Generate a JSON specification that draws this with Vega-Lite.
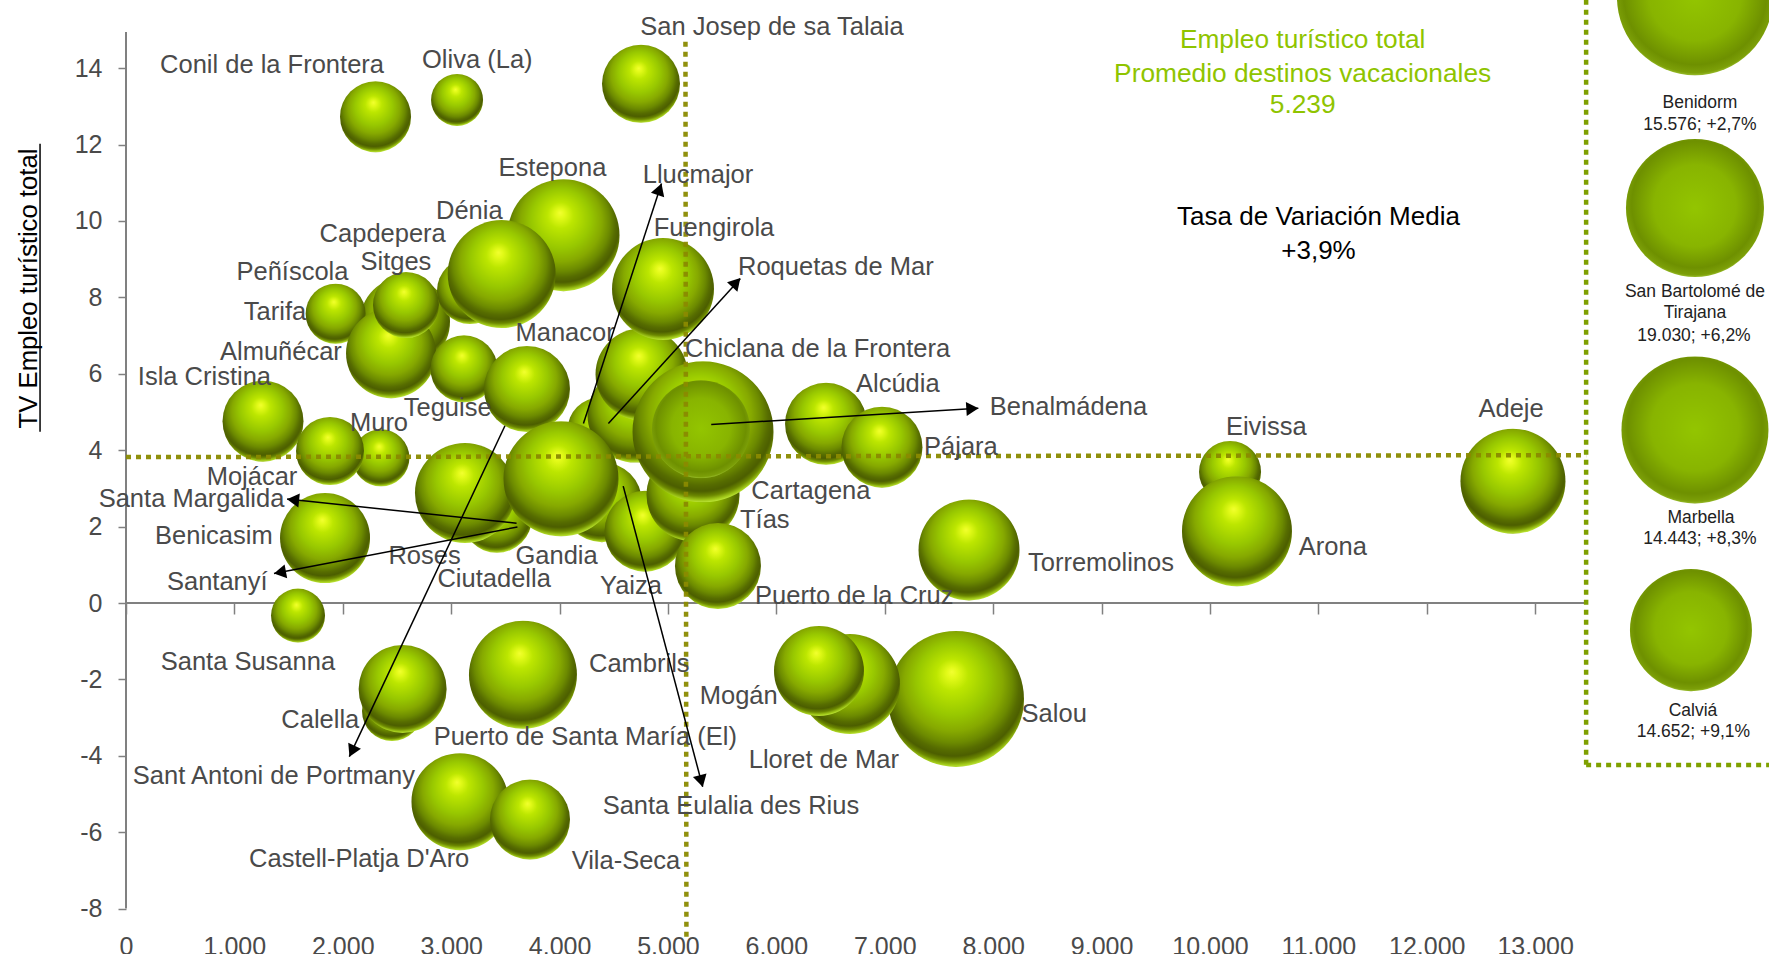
{"$schema":"https://vega.github.io/schema/vega-lite/v6.json","width":1643,"height":954,"autosize":{"type":"none"},"padding":{"left":126,"top":0,"right":0,"bottom":0},"background":"white","config":{"view":{"stroke":null}},
"datasets":{
"burbujas":[
{"m":"Capdepera","x":2574,"y":7.36,"t":90},{"m":"Peñíscola","x":1934,"y":7.57,"t":60},{"m":"Almuñécar","x":2445,"y":6.54,"t":90},{"m":"Sitges","x":2583,"y":7.80,"t":66},
{"m":"Conil de la Frontera","x":2302,"y":12.73,"t":71},{"m":"Oliva (La)","x":3054,"y":13.17,"t":52},{"m":"San Josep de sa Talaia","x":4751,"y":13.59,"t":78},
{"m":"Estepona","x":4036,"y":9.63,"t":112},{"m":"Tarifa","x":3173,"y":8.17,"t":66},{"m":"Dénia","x":3466,"y":8.61,"t":108},
{"m":"Teguise","x":3118,"y":6.13,"t":67},{"m":"Manacor","x":3699,"y":5.60,"t":86},{"m":"Isla Cristina","x":1264,"y":4.76,"t":81},{"m":"Muro","x":2352,"y":3.80,"t":57},{"m":"Mojácar","x":1882,"y":3.98,"t":68},
{"m":"Llucmajor","x":4373,"y":4.53,"t":65},{"m":"Roquetas de Mar","x":4696,"y":4.92,"t":95},{"m":"Chiclana de la Frontera","x":4756,"y":5.99,"t":92},{"m":"Fuengirola","x":4954,"y":8.22,"t":102},
{"m":"Ciutadella","x":3422,"y":2.23,"t":70},{"m":"Roses","x":3127,"y":2.88,"t":100},{"m":"Santa Eulalia des Rius","x":4391,"y":2.64,"t":80},{"m":"Yaiza","x":4788,"y":1.88,"t":81},{"m":"Gandia","x":4013,"y":3.25,"t":115},
{"m":"Benicasim","x":1836,"y":1.70,"t":90},{"m":"Santa Susanna","x":1587,"y":-0.33,"t":54},{"m":"Calella","x":2454,"y":-2.83,"t":60},{"m":"Sant Antoni de Portmany","x":2552,"y":-2.25,"t":88},{"m":"Puerto de Santa María (El)","x":3662,"y":-1.88,"t":108},
{"m":"Castell-Platja D'Aro","x":3081,"y":-5.20,"t":97},{"m":"Vila-Seca","x":3727,"y":-5.67,"t":80},
{"m":"Cartagena","x":5231,"y":2.83,"t":93},{"m":"Benalmádena","x":5323,"y":4.48,"t":141},{"m":"Alcúdia","x":6458,"y":4.69,"t":82},{"m":"Pájara","x":6974,"y":4.08,"t":81},{"m":"Puerto de la Cruz","x":5461,"y":0.97,"t":86},{"m":"Torremolinos","x":7777,"y":1.39,"t":101},
{"m":"Salou","x":7657,"y":-2.51,"t":136},{"m":"Lloret de Mar","x":6679,"y":-2.12,"t":100},{"m":"Mogán","x":6393,"y":-1.78,"t":90},{"m":"Eivissa","x":10185,"y":3.43,"t":62},{"m":"Arona","x":10249,"y":1.88,"t":110},{"m":"Adeje","x":12795,"y":3.19,"t":105}],
"planas":[{"m":"Santa Margalida","x":5304,"y":4.55,"t":98},{"m":"Benidorm","x":14474,"y":15.86,"t":156},{"m":"San Bartolomé de Tirajana","x":14474,"y":10.34,"t":138},{"m":"Marbella","x":14474,"y":4.53,"t":147},{"m":"Calviá","x":14437,"y":-0.71,"t":122}],
"ejes":[{"x":0,"x2":13470,"y":0,"y2":0},{"x":0,"x2":0,"y":-8,"y2":14.95}],
"subrayado":[{"x":-793,"x2":-793,"y":12.02,"y2":4.48}],
"medias":[{"x":0,"x2":13470,"y":3.82,"y2":3.87},{"x":5161,"x2":5170,"y":14.69,"y2":-8.77}],
"recuadro":[{"x":13470,"x2":13470,"y":15.79,"y2":-4.24},{"x":13470,"x2":15157,"y":-4.24,"y2":-4.24}],
"flechas":[{"x":4220,"x2":4940,"y":4.70,"y2":10.98},{"x":4450,"x2":5667,"y":4.70,"y2":8.49},{"x":5399,"x2":7863,"y":4.67,"y2":5.10},{"x":3603,"x2":1486,"y":2.09,"y2":2.72},{"x":3611,"x2":1365,"y":1.99,"y2":0.77},{"x":3496,"x2":2060,"y":4.64,"y2":-4.02},{"x":4587,"x2":5320,"y":3.06,"y2":-4.81}],
"puntas":[{"x":4922,"y":10.83,"a":19.1},{"x":5630,"y":8.39,"a":42.3},{"x":7808,"y":5.09,"a":86.5},{"x":1541,"y":2.70,"a":276},{"x":1420,"y":0.80,"a":259.3},{"x":2085,"y":-3.88,"a":205.2},{"x":5307,"y":-4.66,"a":165.2}],
"etiquetas":[
{"x":314,"y":14.14,"e":"Conil de la Frontera"},{"x":2731,"y":14.27,"e":"Oliva (La)"},{"x":4745,"y":15.13,"e":"San Josep de sa Talaia"},{"x":3437,"y":11.44,"e":"Estepona"},{"x":4767,"y":11.26,"e":"Llucmajor"},{"x":2860,"y":10.31,"e":"Dénia"},{"x":4869,"y":9.88,"e":"Fuengirola"},{"x":1786,"y":9.72,"e":"Capdepera"},{"x":5646,"y":8.85,"e":"Roquetas de Mar"},{"x":2163,"y":8.98,"e":"Sitges"},{"x":1019,"y":8.72,"e":"Peñíscola"},{"x":1087,"y":7.67,"e":"Tarifa"},{"x":3593,"y":7.13,"e":"Manacor"},{"x":5157,"y":6.71,"e":"Chiclana de la Frontera"},{"x":867,"y":6.62,"e":"Almuñécar"},{"x":109,"y":5.97,"e":"Isla Cristina"},{"x":6734,"y":5.79,"e":"Alcúdia"},{"x":2562,"y":5.16,"e":"Teguise"},{"x":7969,"y":5.18,"e":"Benalmádena"},{"x":2066,"y":4.77,"e":"Muro"},{"x":7362,"y":4.14,"e":"Pájara"},{"x":10147,"y":4.66,"e":"Eivissa"},{"x":12477,"y":5.14,"e":"Adeje"},{"x":744,"y":3.35,"e":"Mojácar"},{"x":-252,"y":2.78,"e":"Santa Margalida"},{"x":5769,"y":2.98,"e":"Cartagena"},{"x":5664,"y":2.23,"e":"Tías"},{"x":268,"y":1.81,"e":"Benicasim"},{"x":2421,"y":1.28,"e":"Roses"},{"x":3593,"y":1.28,"e":"Gandia"},{"x":10819,"y":1.52,"e":"Arona"},{"x":8321,"y":1.11,"e":"Torremolinos"},{"x":2873,"y":0.69,"e":"Ciutadella"},{"x":378,"y":0.60,"e":"Santanyí"},{"x":4373,"y":0.50,"e":"Yaiza"},{"x":5803,"y":0.24,"e":"Puerto de la Cruz"},{"x":320,"y":-1.49,"e":"Santa Susanna"},{"x":4271,"y":-1.54,"e":"Cambrils"},{"x":5293,"y":-2.38,"e":"Mogán"},{"x":1433,"y":-3.01,"e":"Calella"},{"x":8262,"y":-2.85,"e":"Salou"},{"x":2838,"y":-3.46,"e":"Puerto de Santa María (El)"},{"x":5745,"y":-4.07,"e":"Lloret de Mar"},{"x":63,"y":-4.48,"e":"Sant Antoni de Portmany"},{"x":4397,"y":-5.27,"e":"Santa Eulalia des Rius"},{"x":1135,"y":-6.66,"e":"Castell-Platja D'Aro"},{"x":4111,"y":-6.70,"e":"Vila-Seca"}],
"verde":[{"x":10855,"y":14.79,"e":"Empleo turístico total"},{"x":10855,"y":13.90,"e":"Promedio destinos vacacionales"},{"x":10855,"y":13.09,"e":"5.239"}],
"negro":[{"x":11001,"y":10.16,"e":"Tasa de Variación Media"},{"x":11001,"y":9.27,"e":"+3,9%"}],
"destacados":[{"x":14520,"y":13.10,"e":"Benidorm"},{"x":14520,"y":12.51,"e":"15.576; +2,7%"},{"x":14474,"y":8.15,"e":"San Bartolomé  de"},{"x":14474,"y":7.60,"e":"Tirajana"},{"x":14465,"y":6.99,"e":"19.030; +6,2%"},{"x":14530,"y":2.23,"e":"Marbella"},{"x":14520,"y":1.67,"e":"14.443; +8,3%"},{"x":14456,"y":-2.82,"e":"Calviá"},{"x":14460,"y":-3.38,"e":"14.652; +9,1%"}]
},
"encoding":{
"x":{"field":"x","type":"quantitative","scale":{"domain":[0,15157],"nice":false,"zero":false},"axis":{"values":[0,1000,2000,3000,4000,5000,6000,7000,8000,9000,10000,11000,12000,13000],"offset":-351,"domain":false,"grid":false,"title":null,"tickSize":11,"tickColor":"#808080","tickWidth":1.5,"labelPadding":320,"labelFont":"Liberation Sans","labelFontSize":25,"labelColor":"#4a4a4a","labelExpr":"replace(format(datum.value, ','), ',', '.')","labelOverlap":false,"labelBound":false,"labelFlush":false,"labelBaseline":"top"}},
"y":{"field":"y","type":"quantitative","scale":{"domain":[-9.188,15.785],"nice":false,"zero":false},"axis":{"values":[-8,-6,-4,-2,0,2,4,6,8,10,12,14],"domain":false,"grid":false,"tickSize":8,"tickColor":"#808080","tickWidth":1.5,"labelPadding":16,"labelFont":"Liberation Sans","labelFontSize":25,"labelColor":"#4a4a4a","labelExpr":"'' + datum.value","labelOverlap":false,"labelBound":false,"title":"TV Empleo turístico  total","titleFont":"Liberation Sans","titleFontWeight":400,"titleFontSize":25.7,"titleColor":"#000000","titleX":-98,"titleY":288,"titleAlign":"center","titleBaseline":"middle"}}
},
"layer":[
{"data":{"name":"ejes"},"mark":{"type":"rule","color":"#808080","strokeWidth":2},"encoding":{"x2":{"field":"x2"},"y2":{"field":"y2"}}},
{"data":{"name":"subrayado"},"mark":{"type":"rule","color":"#000000","strokeWidth":1.5},"encoding":{"x2":{"field":"x2"},"y2":{"field":"y2"}}},
{"data":{"name":"burbujas"},"mark":{"type":"point","shape":"circle","filled":true,"opacity":1,"fill":{"gradient":"radial","x1":0.47,"y1":0.3,"r1":0,"x2":0.485,"y2":0.42,"r2":0.585,"stops":[{"offset":0,"color":"#f2ff30"},{"offset":0.07,"color":"#e2fa18"},{"offset":0.2,"color":"#bce600"},{"offset":0.45,"color":"#98c800"},{"offset":0.62,"color":"#86a900"},{"offset":0.74,"color":"#6c8a00"},{"offset":0.82,"color":"#566c00"},{"offset":0.88,"color":"#4c5e00"},{"offset":0.93,"color":"#6c8800"},{"offset":0.97,"color":"#a0c818"},{"offset":1,"color":"#c4ec40"}]}},"encoding":{"size":{"field":"t","type":"quantitative","legend":null,"scale":{"type":"pow","exponent":2,"domain":[0,160],"range":[0,25600]}}}},
{"data":{"name":"planas"},"mark":{"type":"point","shape":"circle","filled":true,"opacity":1,"fill":{"gradient":"radial","x1":0.5,"y1":0.5,"r1":0,"x2":0.5,"y2":0.47,"r2":0.54,"stops":[{"offset":0,"color":"#93c500"},{"offset":0.55,"color":"#88b400"},{"offset":0.85,"color":"#6e9000"},{"offset":0.95,"color":"#7c9f08"},{"offset":1,"color":"#a8cc40"}]}},"encoding":{"size":{"field":"t","type":"quantitative","legend":null,"scale":{"type":"pow","exponent":2,"domain":[0,160],"range":[0,25600]}}}},
{"data":{"name":"medias"},"mark":{"type":"rule","color":"#8a8a00","strokeWidth":4.5,"strokeDash":[5,5],"opacity":0.95},"encoding":{"x2":{"field":"x2"},"y2":{"field":"y2"}}},
{"data":{"name":"recuadro"},"mark":{"type":"rule","color":"#7fa000","strokeWidth":4.5,"strokeDash":[5,5]},"encoding":{"x2":{"field":"x2"},"y2":{"field":"y2"}}},
{"data":{"name":"etiquetas"},"mark":{"type":"text","align":"left","baseline":"middle","font":"Liberation Sans","fontSize":25.5,"dy":2,"color":"#4a4a4a"},"encoding":{"text":{"field":"e"}}},
{"data":{"name":"flechas"},"mark":{"type":"rule","color":"#000000","strokeWidth":1.5},"encoding":{"x2":{"field":"x2"},"y2":{"field":"y2"}}},
{"data":{"name":"puntas"},"mark":{"type":"point","shape":"triangle-up","filled":true,"opacity":1,"color":"#000000","size":196},"encoding":{"angle":{"field":"a","type":"quantitative","scale":null}}},
{"data":{"name":"verde"},"mark":{"type":"text","align":"center","baseline":"middle","font":"Liberation Sans","fontSize":26.3,"dy":2,"color":"#8fc400"},"encoding":{"text":{"field":"e"}}},
{"data":{"name":"negro"},"mark":{"type":"text","align":"center","baseline":"middle","font":"Liberation Sans","fontSize":26,"dy":2,"color":"#000000"},"encoding":{"text":{"field":"e"}}},
{"data":{"name":"destacados"},"mark":{"type":"text","align":"center","baseline":"middle","font":"Liberation Sans","fontSize":17.5,"color":"#222222"},"encoding":{"text":{"field":"e"}}}
]}
